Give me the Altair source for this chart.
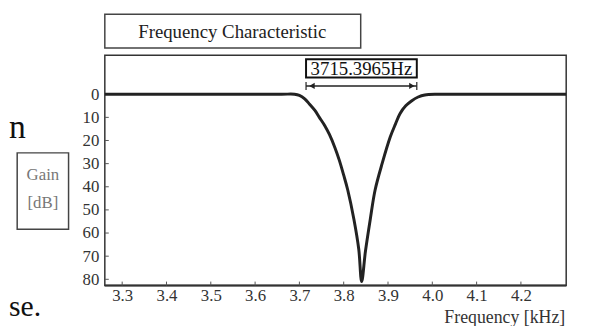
import altair as alt
import pandas as pd

# ---- data ----
freq_khz = [3.261, 3.500, 3.660, 3.689, 3.700, 3.712, 3.723, 3.735, 3.745, 3.757, 3.768, 3.780, 3.790,
            3.800, 3.809, 3.823, 3.834, 3.8405, 3.849, 3.860, 3.871, 3.887, 3.905,
            3.917, 3.927, 3.940, 3.953, 3.968, 3.983, 4.012, 4.050, 4.150, 4.302]
gain_db = [0, 0, 0, 0, 0.5, 2.0, 4.3, 7.0, 10, 13.5, 17.5, 23, 28.5,
           35, 41.3, 54, 67, 81, 68, 54, 41.3, 29.8, 18.5,
           12.8, 8.4, 5.0, 2.9, 1.2, 0.3, 0, 0, 0, 0]
x_ticks = [3.3, 3.4, 3.5, 3.6, 3.7, 3.8, 3.9, 4.0, 4.1, 4.2]
y_ticks = [0, 10, 20, 30, 40, 50, 60, 70, 80]
band_lo = 3.715
band_hi = 3.965
band_label = "3715.3965Hz"
title_text = "Frequency Characteristic"
ylabel_lines = ["Gain", "[dB]"]
xlabel_text = "Frequency [kHz]"

W, H = 467, 233
FONT = "Liberation Serif"
X_DOM = [3.2608, 4.3022]
Y_DOM = [-16.8, 82.7]

curve = pd.DataFrame({"f": freq_khz, "g": gain_db})
xt = pd.DataFrame({"f": x_ticks})
yt = pd.DataFrame({"g": y_ticks})
band = pd.DataFrame({"lo": [band_lo], "hi": [band_hi],
                     "mid": [(band_lo + band_hi) / 2], "t": [band_label]})
one = pd.DataFrame({"k": [0]})

xs = alt.Scale(domain=X_DOM, nice=False, zero=False)
ys = alt.Scale(domain=Y_DOM, nice=False, zero=False, reverse=True)
AXX = alt.Axis(values=x_ticks, format=".1f", labelPadding=2, tickSize=0, domain=False, grid=False,
               title=None, labelOverlap=False, labelFont=FONT, labelFontSize=17, labelColor="#333")
AXY = alt.Axis(values=y_ticks, format="d", labelPadding=6, tickSize=0, domain=False, grid=False,
               title=None, labelOverlap=False, labelFont=FONT, labelFontSize=17, labelColor="#333")


def X(field):
    return alt.X(field, scale=xs, axis=AXX)


def Y(field):
    return alt.Y(field, scale=ys, axis=AXY)


line = alt.Chart(curve).mark_line(color="#222", strokeWidth=3, interpolate="catmull-rom").encode(
    x=X("f:Q"), y=Y("g:Q"))

xtick = alt.Chart(xt).mark_rule(color="#555", strokeWidth=1).encode(
    x=X("f:Q"), y=alt.value(H), y2=alt.value(H - 4))
ytick = alt.Chart(yt).mark_rule(color="#555", strokeWidth=1).encode(
    y=Y("g:Q"), x=alt.value(0), x2=alt.value(4))
bottom = alt.Chart(one).mark_rule(color="#333", strokeWidth=2).encode(
    x=alt.value(0), x2=alt.value(W), y=alt.value(H))

bbox = alt.Chart(band).mark_rect(fill="white", stroke="#111", strokeWidth=2).encode(
    x=X("lo:Q"), x2="hi:Q", y=alt.value(4), y2=alt.value(22.5))
btext = alt.Chart(band).mark_text(font=FONT, fontSize=19, color="#111", baseline="middle").encode(
    x=X("mid:Q"), y=alt.value(14), text="t:N")
arrow = alt.Chart(band).mark_rule(color="#222", strokeWidth=1.5).encode(
    x=X("lo:Q"), x2="hi:Q", y=alt.value(31))
endl = alt.Chart(band).mark_rule(color="#222", strokeWidth=1.2).encode(
    x=X("lo:Q"), y=alt.value(27), y2=alt.value(35))
endr = alt.Chart(band).mark_rule(color="#222", strokeWidth=1.2).encode(
    x=X("hi:Q"), y=alt.value(27), y2=alt.value(35))
headl = alt.Chart(band).mark_point(shape="triangle-left", filled=True, color="#222", size=40, opacity=1,
                                   xOffset=6).encode(x=X("lo:Q"), y=alt.value(31))
headr = alt.Chart(band).mark_point(shape="triangle-right", filled=True, color="#222", size=40, opacity=1,
                                   xOffset=-5).encode(x=X("hi:Q"), y=alt.value(31))

tbox = alt.Chart(one).mark_rect(fill="white", stroke="#444", strokeWidth=1.5).encode(
    x=alt.value(0), x2=alt.value(259), y=alt.value(-41.5), y2=alt.value(-7.5))
ttext = alt.Chart(one).mark_text(font=FONT, fontSize=19, color="#222", baseline="middle").encode(
    x=alt.value(129), y=alt.value(-24), text=alt.value(title_text))

gbox = alt.Chart(one).mark_rect(fill="white", stroke="#444", strokeWidth=1.5).encode(
    x=alt.value(-88.7), x2=alt.value(-36.7), y=alt.value(98.7), y2=alt.value(176))
g1 = alt.Chart(one).mark_text(font=FONT, fontSize=17, color="#777", baseline="middle").encode(
    x=alt.value(-62.7), y=alt.value(121), text=alt.value(ylabel_lines[0]))
g2 = alt.Chart(one).mark_text(font=FONT, fontSize=17, color="#777", baseline="middle").encode(
    x=alt.value(-62.7), y=alt.value(150), text=alt.value(ylabel_lines[1]))

xlab = alt.Chart(one).mark_text(font=FONT, fontSize=18, color="#333", baseline="middle", align="right").encode(
    x=alt.value(466), y=alt.value(266), text=alt.value(xlabel_text))

stray1 = alt.Chart(one).mark_text(font=FONT, fontSize=34, color="#111", baseline="alphabetic", align="left").encode(
    x=alt.value(-97), y=alt.value(84), text=alt.value("n"))
stray2 = alt.Chart(one).mark_text(font=FONT, fontSize=30, color="#111", baseline="alphabetic", align="left").encode(
    x=alt.value(-97), y=alt.value(264), text=alt.value("se."))

chart = alt.layer(
    bottom, xtick, ytick, line, arrow, endl, endr, headl, headr, bbox, btext,
    tbox, ttext, gbox, g1, g2, xlab, stray1, stray2
).properties(
    width=W, height=H,
    autosize=alt.AutoSizeParams(type="none"),
    padding={"left": 98, "top": 46, "right": 16, "bottom": 39},
).configure_view(
    stroke="#333", strokeWidth=1.5
).configure_axis(
    labelFont=FONT, labelFontSize=17, labelColor="#333"
)

chart.save("out.html", embed_options={"renderer": "svg", "actions": False})
